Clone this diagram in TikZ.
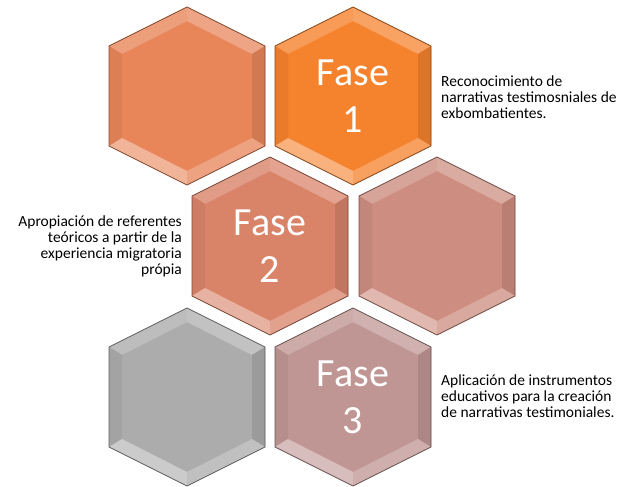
\documentclass[tikz,border=0pt]{standalone}
\usepackage{fontspec}
\setmainfont{Carlito}
\usetikzlibrary{positioning}
\definecolor{orangeA}{RGB}{232,134,90}
\definecolor{orangeB}{RGB}{245,130,45}
\definecolor{salmonA}{RGB}{217,131,105}
\definecolor{salmonB}{RGB}{205,141,128}
\definecolor{greyA}{RGB}{172,172,172}
\definecolor{roseA}{RGB}{191,150,148}
\tikzset{
  pics/hexa/.style={code={
    \fill[#1] (0,-89) -- (78,-50) -- (78,50) -- (0,89) -- (-78,50) -- (-78,-50) -- cycle;
    % top facets
    \fill[#1!80!white] (0,-89) -- (-78,-50) -- (-65,-42) -- (0,-75) -- cycle;
    \fill[#1!74!white] (0,-89) -- (78,-50) -- (65,-42) -- (0,-75) -- cycle;
    % side facets
    \fill[#1!95!black] (-78,-50) -- (-78,50) -- (-65,42) -- (-65,-42) -- cycle;
    \fill[#1!90!black] (78,-50) -- (78,50) -- (65,42) -- (65,-42) -- cycle;
    % bottom facets
    \fill[#1!62!white] (-78,50) -- (0,89) -- (0,75) -- (-65,42) -- cycle;
    \fill[#1!76!white] (78,50) -- (0,89) -- (0,75) -- (65,42) -- cycle;
    \draw[#1!55!black,line width=0.7pt] (0,-89) -- (78,-50) -- (78,50) -- (0,89) -- (-78,50) -- (-78,-50) -- cycle;
  }},
  fase/.style={text=white,align=center,inner sep=0pt,font=\fontsize{40}{47}\selectfont},
  desc/.style={inner sep=0pt,font=\fontsize{15.5}{15.8}\selectfont}
}
\begin{document}
\begin{tikzpicture}[x=1pt,y=-1pt]
  \useasboundingbox (0,0) rectangle (622,487);

  \pic (h1) at (187,96) {hexa=orangeA};
  \pic (h2) at (353,96) {hexa=orangeB};
  \pic (h3) at (270,246) {hexa=salmonA};
  \pic (h4) at (437,246) {hexa=salmonB};
  \pic (h5) at (187,397) {hexa=greyA};
  \pic (h6) at (353,397) {hexa=roseA};

  \node[fase] (f1) at (353,96) {Fase\\1};
  \node[fase] (f2) at (270,246) {Fase\\2};
  \node[fase] (f3) at (353,397) {Fase\\3};

  \node[desc,anchor=north west,align=left] (d1) at (441,76)
    {Reconocimiento de\\narrativas testimosniales de\\exbombatientes.};
  \node[desc,anchor=north east,align=right] (d2) at (182,216)
    {Apropiación de referentes\\teóricos a partir de la\\experiencia migratoria\\própia};
  \node[desc,anchor=north west,align=left] (d3) at (441,375)
    {Aplicación de instrumentos\\educativos para la creación\\de narrativas testimoniales.};

\end{tikzpicture}
\end{document}
